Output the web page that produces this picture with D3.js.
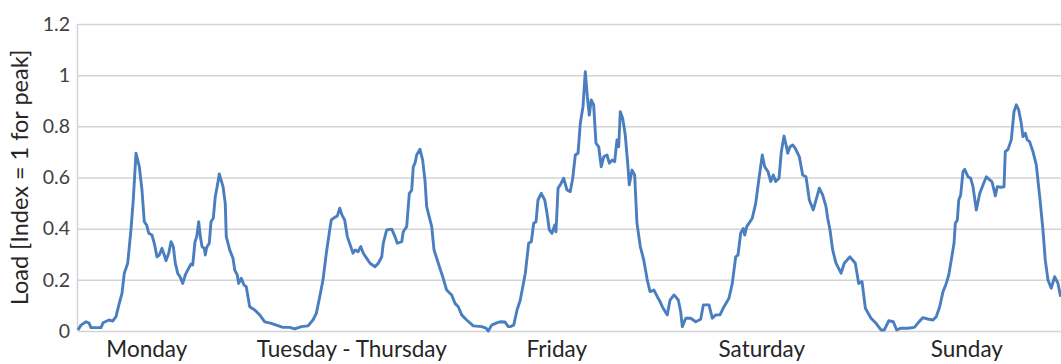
<!DOCTYPE html>
<html><head><meta charset="utf-8">
<script src="https://cdn.jsdelivr.net/npm/d3@7"></script>
<style>
html,body{margin:0;padding:0;background:#fff;}
svg{display:block;}
</style></head>
<body>
<svg id="chart" width="1061" height="364"></svg>
<script>
// Time (hours from Monday 00:00) and normalised load
const hours = [0,0.35,0.94,1.29,1.52,2.69,2.93,3.63,4.06,4.45,4.83,5.15,5.42,5.82,6.20,6.47,6.79,7.18,7.49,7.76,8.04,8.28,8.66,8.93,9.25,9.52,9.83,10.10,10.30,10.62,10.89,11.16,11.39,11.67,11.94,12.26,12.56,12.84,13.23,13.43,13.70,13.90,14.13,14.32,14.52,14.79,14.90,15.07,15.37,15.57,15.84,16.07,16.36,16.54,16.98,17.24,17.36,17.76,18.15,18.35,18.65,18.81,19.12,19.43,19.70,20.10,20.69,21.27,21.86,22.63,23.22,24.00,24.78,25.37,26.14,26.93,27.51,27.90,28.30,28.68,29.07,29.47,29.65,30.05,30.36,30.64,30.91,31.22,31.53,31.93,32.20,32.46,32.78,33.10,33.40,33.80,34.19,34.77,35.16,35.56,35.74,36.14,36.73,37.11,37.38,37.90,38.08,38.48,38.79,39.07,39.25,39.45,39.65,40.04,40.35,40.62,40.82,41.41,41.68,42.18,42.70,43.16,43.75,44.14,44.52,44.92,45.50,46.28,47.26,47.77,48.03,48.43,49.02,49.40,49.99,50.38,50.61,51.01,51.40,51.78,52.37,52.76,53.07,53.35,53.62,53.85,54.24,54.64,54.91,55.18,55.49,55.81,55.96,56.20,56.46,56.86,57.25,57.63,57.92,58.22,58.54,58.81,59.12,59.39,59.63,59.86,60.09,60.37,60.64,60.96,61.26,61.55,61.93,62.20,62.52,62.83,63.10,63.30,63.49,63.77,64.07,64.39,64.54,64.86,65.17,65.44,65.83,66.23,66.65,66.97,67.43,67.82,68.14,68.41,68.99,69.31,69.78,70.28,70.56,70.75,71.15,71.73,72.32,72.90,73.21,73.87,74.26,74.66,75.16,75.63,76.21,76.60,77.00,77.27,77.58,77.89,78.05,78.29,78.94,79.34,79.73,80.11,80.39,80.78,81.10,81.40,81.68,82.07,82.34,82.66,82.92,83.09,83.36,83.67,83.98,84.45,84.84,85.23,85.62,86.08,86.40,86.79,87.18,87.57,87.77,88.04,88.35,88.74,89.33,89.71,90.38,91.00,91.40,91.79,92.18,92.84,93.43,94.01,94.40,94.91,95.45,95.85,96.35,97.13,97.91,98.31,98.89,99.48,100.10,100.48,100.88,101.27,101.65,101.94,102.24,102.56,102.71,102.95,103.11,103.34,103.61,103.81,104.20,104.51,104.78,105.17,105.57,105.95,106.34,106.74,107.00,107.24,107.39,107.62,108.09,108.41,108.56,108.88,109.26,109.58,109.85,110.13,110.43,110.63,110.90,111.13,111.41,111.80,112.19,112.59,112.97,113.24,113.56,113.94,114.34,114.73,115.04];
const load = [0.004,0.023,0.036,0.031,0.013,0.013,0.032,0.043,0.039,0.056,0.108,0.147,0.226,0.265,0.395,0.512,0.695,0.642,0.551,0.427,0.414,0.382,0.375,0.343,0.290,0.297,0.323,0.297,0.275,0.304,0.349,0.330,0.265,0.226,0.212,0.186,0.219,0.238,0.262,0.258,0.349,0.369,0.427,0.369,0.330,0.323,0.297,0.327,0.343,0.427,0.441,0.525,0.577,0.614,0.564,0.499,0.369,0.317,0.284,0.238,0.219,0.186,0.206,0.180,0.173,0.095,0.082,0.063,0.036,0.030,0.023,0.014,0.014,0.008,0.017,0.020,0.043,0.069,0.134,0.199,0.304,0.395,0.434,0.444,0.450,0.480,0.453,0.434,0.369,0.330,0.304,0.317,0.310,0.330,0.304,0.284,0.265,0.251,0.265,0.290,0.343,0.395,0.398,0.369,0.343,0.349,0.388,0.408,0.538,0.551,0.642,0.656,0.688,0.710,0.668,0.590,0.486,0.408,0.317,0.265,0.212,0.160,0.141,0.108,0.095,0.063,0.043,0.020,0.017,0.011,0.000,0.023,0.032,0.036,0.035,0.017,0.017,0.023,0.082,0.121,0.226,0.343,0.349,0.421,0.427,0.512,0.538,0.512,0.460,0.395,0.382,0.414,0.388,0.558,0.571,0.597,0.551,0.545,0.597,0.688,0.695,0.812,0.877,1.014,0.916,0.844,0.903,0.884,0.734,0.720,0.642,0.681,0.688,0.656,0.668,0.662,0.747,0.720,0.857,0.831,0.766,0.642,0.571,0.629,0.610,0.421,0.330,0.278,0.199,0.154,0.160,0.134,0.115,0.095,0.063,0.121,0.141,0.121,0.075,0.017,0.050,0.050,0.036,0.046,0.102,0.102,0.050,0.063,0.063,0.095,0.128,0.186,0.290,0.297,0.382,0.401,0.375,0.408,0.441,0.499,0.597,0.688,0.642,0.623,0.584,0.610,0.584,0.597,0.701,0.762,0.723,0.695,0.720,0.727,0.714,0.681,0.610,0.603,0.512,0.473,0.512,0.558,0.532,0.486,0.441,0.395,0.317,0.265,0.226,0.265,0.290,0.265,0.186,0.193,0.089,0.050,0.030,0.004,0.004,0.040,0.036,0.004,0.011,0.011,0.014,0.030,0.052,0.047,0.043,0.056,0.095,0.154,0.186,0.219,0.278,0.343,0.421,0.434,0.512,0.532,0.623,0.632,0.603,0.597,0.564,0.473,0.538,0.571,0.603,0.590,0.584,0.551,0.528,0.564,0.562,0.564,0.701,0.710,0.747,0.857,0.884,0.864,0.812,0.760,0.773,0.747,0.740,0.701,0.649,0.525,0.395,0.278,0.199,0.167,0.212,0.186,0.134];

const yTicks = [0, 0.2, 0.4, 0.6, 0.8, 1, 1.2];
const dayLabels = ["Monday", "Tuesday - Thursday", "Friday", "Saturday", "Sunday"];
const dayLabelHours = [8, 32, 56, 80, 104];
const yTitle = "Load [Index = 1 for peak]";

const svg = d3.select("#chart");
const plotL = 78, plotR = 1061, plotT = 24, plotB = 331;
const hourPx = 205 / 24;

const x = d3.scaleLinear().domain([0, (plotR - plotL) / hourPx]).range([plotL, plotR]);
const y = d3.scaleLinear().domain([0, 1.2]).range([plotB, plotT]);

const fontFam = "Lato, 'Open Sans', sans-serif";
const textCol = "#404040";

// gridlines + y tick labels
const yAxis = svg.append("g")
  .attr("transform", `translate(${plotL},0)`)
  .call(d3.axisLeft(y).tickValues(yTicks).tickSize(-(plotR - plotL)).tickPadding(8)
    .tickFormat(d => d3.format("~g")(d)));
yAxis.select(".domain").remove();
yAxis.selectAll(".tick line").attr("stroke", "#d4d4d4").attr("stroke-width", 1.5);
yAxis.selectAll(".tick text").attr("fill", textCol).style("font-family", fontFam).style("font-size", "19.5px");

// left axis line
svg.append("line").attr("x1", plotL - 0.5).attr("x2", plotL - 0.5).attr("y1", y(1.2)).attr("y2", y(0))
  .attr("stroke", "#d4d4d4").attr("stroke-width", 1.5);

// x axis labels
const xAxis = svg.append("g")
  .attr("transform", `translate(0,${plotB})`)
  .call(d3.axisBottom(x).tickValues(dayLabelHours).tickSize(0).tickPadding(10)
    .tickFormat((d, i) => dayLabels[i]));
xAxis.select(".domain").remove();
xAxis.selectAll(".tick text").attr("fill", "#262626").style("font-family", fontFam).style("font-size", "22.5px");

// y title
svg.append("text")
  .attr("transform", `translate(28,${(plotT + plotB) / 2 + 0}) rotate(-90)`)
  .attr("text-anchor", "middle")
  .attr("fill", "#262626")
  .style("font-family", fontFam).style("font-size", "23.5px")
  .text(yTitle);

// line
const pts = hours.map((h, i) => [h, load[i]]);
svg.append("path")
  .datum(pts)
  .attr("fill", "none")
  .attr("stroke", "#4a7ebf")
  .attr("stroke-width", 2.9)
  .attr("stroke-linejoin", "round")
  .attr("d", d3.line().x(d => x(d[0])).y(d => y(d[1])));
</script>
</body></html>
